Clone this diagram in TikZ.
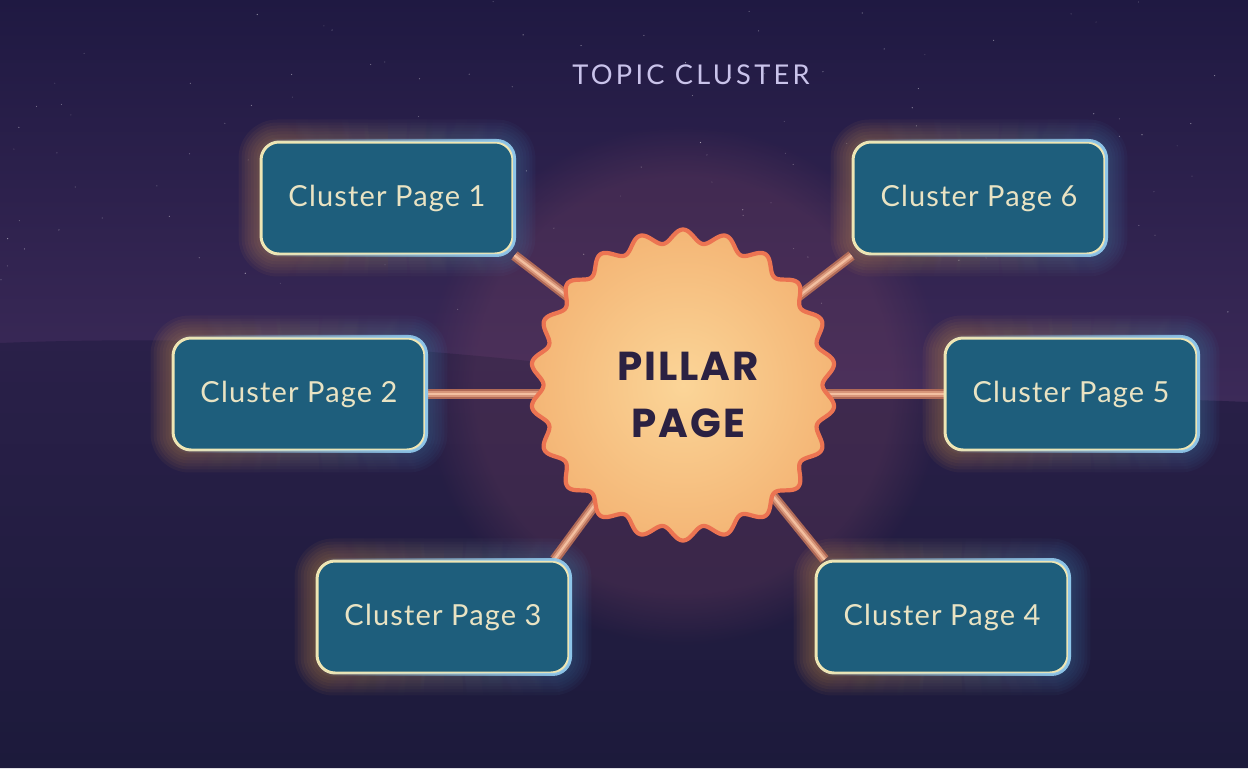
\documentclass[tikz,border=0pt]{standalone}
\usepackage{fontspec}
\setmainfont{Lato}
\newfontfamily\boxfont{Lato}[LetterSpace=4]
\newfontfamily\titlefont{Lato}[LetterSpace=12]
\newfontfamily\pillarfont{Poppins}[LetterSpace=5]
\usetikzlibrary{fadings,calc}
\definecolor{skytop}{HTML}{1F1942}
\definecolor{skymid}{HTML}{282049}
\definecolor{skyhor}{HTML}{3E2B5A}
\definecolor{hilltop}{HTML}{2A2049}
\definecolor{bgbot}{HTML}{1C1A3B}
\definecolor{boxfill}{HTML}{1E5E7C}
\definecolor{boxcream}{HTML}{EFE6B4}
\definecolor{boxblue}{HTML}{8EC6EA}
\definecolor{boxtext}{HTML}{E9E3C3}
\definecolor{titlec}{HTML}{C9C3EA}
\definecolor{pillartext}{HTML}{2B2142}
\definecolor{pillarline}{HTML}{EC7452}
\definecolor{pillarin}{HTML}{FBD598}
\definecolor{pillarout}{HTML}{F4B676}
\definecolor{connout}{HTML}{B06A57}
\definecolor{connmid}{HTML}{D8967A}
\definecolor{connin}{HTML}{F3BFA0}
\definecolor{glowwarm}{HTML}{E8A050}
\definecolor{glowblue}{HTML}{4A90C8}
\definecolor{pillarglow}{HTML}{7A4462}
\pgfdeclarelayer{bglayer}
\pgfdeclarelayer{glowlayer}
\pgfdeclarelayer{connlayer}
\pgfsetlayers{bglayer,glowlayer,connlayer,main}
\begin{document}
\begin{tikzpicture}[x=0.02cm,y=-0.02cm,
  cbox/.style={draw=boxcream, line width=1.7pt, fill=boxfill, rounded corners=0.36cm,
    minimum width=5.04cm, minimum height=2.24cm, inner sep=0pt, text=boxtext,
    font=\boxfont\fontsize{16.5}{20}\selectfont},
  conn/.style={draw=connout, line width=5.8pt,
    postaction={draw=connmid, line width=3.4pt},
    postaction={draw=connin, line width=1.2pt}},
  titlestyle/.style={text=titlec, font=\titlefont\fontsize{15.5}{18}\selectfont},
  pillarstyle/.style={text=pillartext, align=center,
    font=\pillarfont\bfseries\fontsize{23}{32}\selectfont}]
\useasboundingbox (0,0) rectangle (1248,768);

% background
\begin{pgfonlayer}{bglayer}
\fill[bgbot] (0,0) rectangle (1248,768);
\shade[top color=skytop, middle color=skymid, bottom color=skyhor] (0,0) rectangle (1248,430);
\shade[top color=hilltop, bottom color=bgbot]
  (0,343) .. controls (200,335) and (420,345) .. (620,372)
  .. controls (800,395) and (1000,392) .. (1248,402) -- (1248,768) -- (0,768) -- cycle;
\pgfmathsetseed{11}
\foreach \i in {1,...,110}{
  \pgfmathsetmacro\sx{rnd*1248}
  \pgfmathsetmacro\sy{rnd*320}
  \pgfmathsetmacro\so{rnd*0.45+0.15}
  \fill[white, opacity=\so] (\sx,\sy) circle (0.012cm);
}
\end{pgfonlayer}

% nodes
\coordinate (P) at (683,385);
\node[titlestyle] (title) at (691,75) {TOPIC CLUSTER};

\path[draw=pillarline, line width=2.4pt, inner color=pillarin, outer color=pillarout]
  plot[domain=0:360, samples=721, variable=\t]
  ({683+(146+6.5*cos(22*(\t-90)))*cos(\t)}, {385-(149+6.5*cos(22*(\t-90)))*sin(\t)}) -- cycle;
\node[pillarstyle] (pillar) at (688,395) {PILLAR\\PAGE};

\node[cbox] (c1) at (387,198) {Cluster Page 1};
\node[cbox] (c2) at (299,394) {Cluster Page 2};
\node[cbox] (c3) at (443,617) {Cluster Page 3};
\node[cbox] (c4) at (942,617) {Cluster Page 4};
\node[cbox] (c5) at (1071,394) {Cluster Page 5};
\node[cbox] (c6) at (979,198) {Cluster Page 6};

\foreach \n in {c1,c2,c3,c4,c5,c6}{
  \draw[boxblue, line width=1.7pt, rounded corners=0.36cm, path fading=west]
    (\n.south west) rectangle (\n.north east);
}

% glows
\begin{pgfonlayer}{glowlayer}
\fill[pillarglow, opacity=0.28, path fading=circle with fuzzy edge 20 percent] (P) circle (5.2cm);
\foreach \n in {c1,c2,c3,c4,c5,c6}{
  \foreach \k in {1,...,7}{
    \pgfmathsetmacro\rr{0.36+\k*0.06}
    \fill[glowwarm, opacity=0.06, rounded corners=\rr cm, path fading=east]
      ([shift={(-\k*3,\k*3)}]\n.south west) rectangle ([shift={(\k*3,-\k*3)}]\n.north east);
    \fill[glowblue, opacity=0.05, rounded corners=\rr cm, path fading=west]
      ([shift={(-\k*3,\k*3)}]\n.south west) rectangle ([shift={(\k*3,-\k*3)}]\n.north east);
  }
}
\end{pgfonlayer}

% connectors
\begin{pgfonlayer}{connlayer}
\draw[conn] (c1.south east) -- (P);
\draw[conn] (c6.south west) -- (P);
\draw[conn] (c2.east) -- (c2.east -| P);
\draw[conn] (c5.west) -- (c5.west -| P);
\draw[conn] ([xshift=-0.32cm]c3.north east) -- (P);
\draw[conn] ([xshift=0.2cm]c4.north west) -- (P);
\end{pgfonlayer}
\end{tikzpicture}
\end{document}
